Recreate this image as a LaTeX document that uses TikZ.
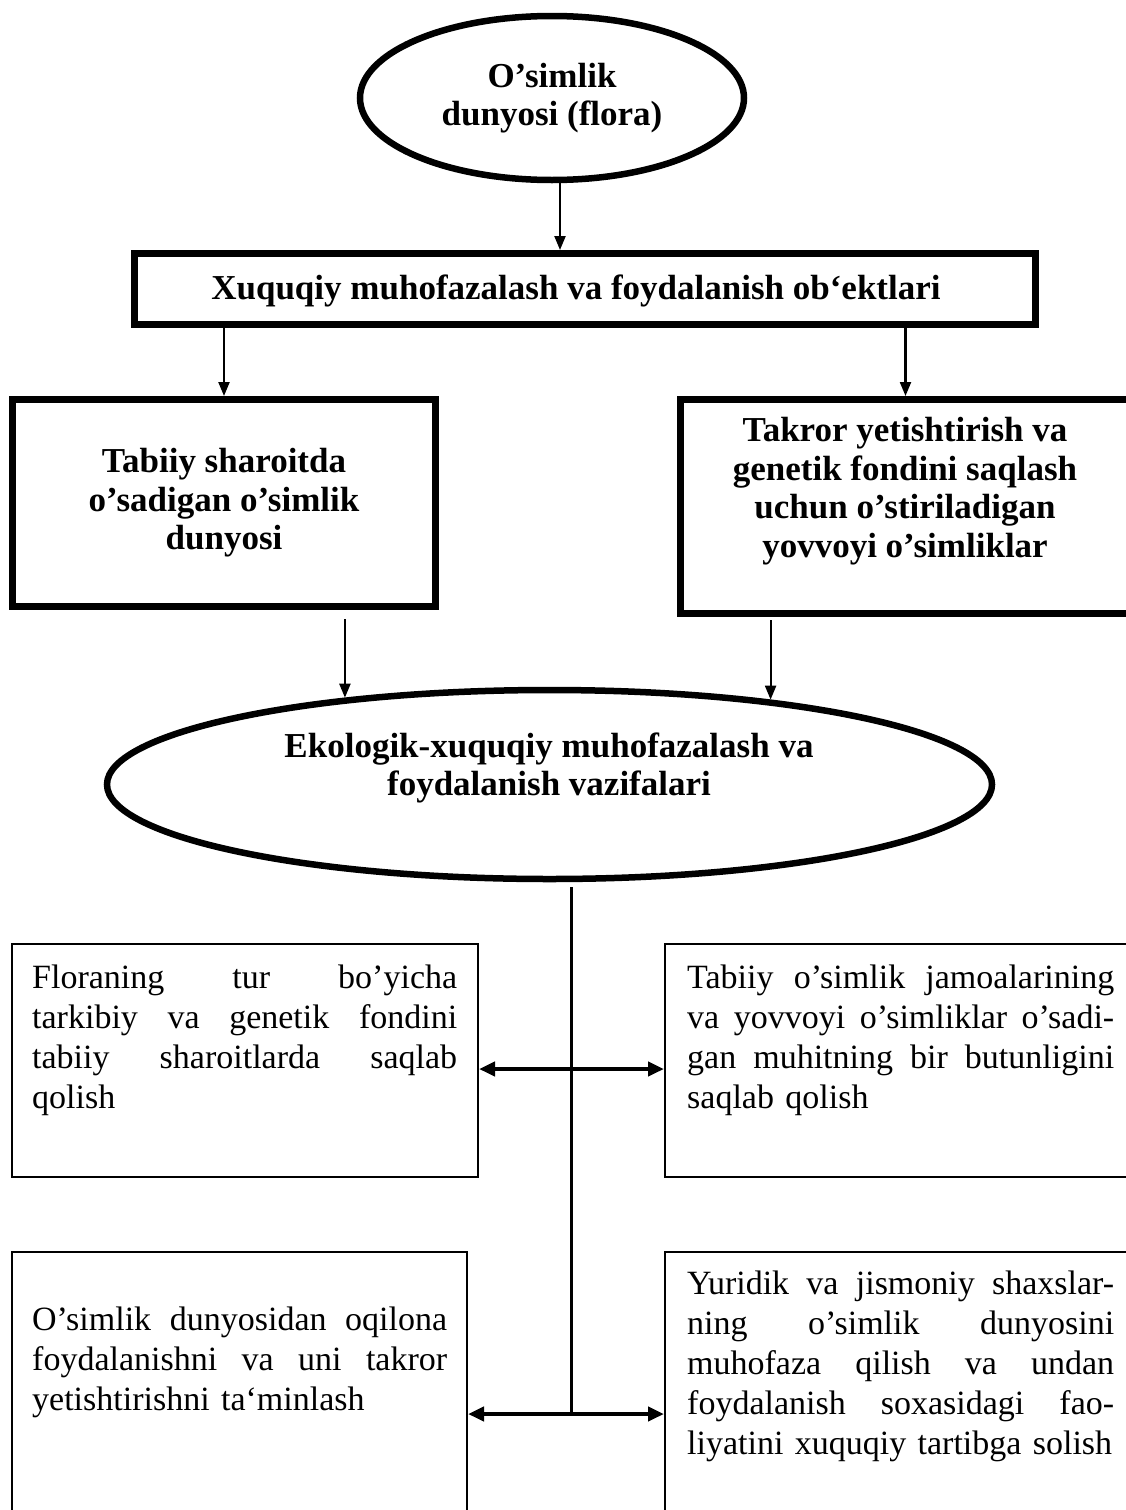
\documentclass[tikz,border=0pt]{standalone}
\usepackage{fontspec}
\setmainfont{Liberation Serif}
\usetikzlibrary{arrows.meta,shapes.geometric,calc}
\newcommand{\jl}[1]{\hbox to \hsize{\strut\spaceskip=.25em plus 1fil minus .05em\relax #1}}
\newcommand{\lastl}[1]{\hbox to \hsize{\strut #1\hfil}}
\begin{document}
\begin{tikzpicture}[x=1pt,y=-1pt,
  thickbox/.style={draw,line width=7pt,inner sep=0pt},
  thinbox/.style={draw,line width=2pt,inner sep=0pt},
  oval/.style={ellipse,draw,inner sep=0pt},
  conn/.style={line width=2.2pt,-{Triangle[length=14pt,width=11pt]}},
  biarrow/.style={line width=4.5pt,{Triangle[length=16pt,width=14pt]}-{Triangle[length=16pt,width=14pt]}},
  trunk/.style={line width=3pt},
  head/.style={font=\fontsize{35}{38.5}\selectfont\bfseries,align=center,inner sep=0pt},
  body/.style={font=\fontsize{34}{40}\selectfont,inner sep=0pt,anchor=north west}
]
\clip (0,0) rectangle (1126,1510);
\fill[white] (0,0) rectangle (1126,1510);

% top ellipse
\node[oval,line width=6.5pt,minimum width=384pt,minimum height=164pt,head] (flora) at (552,98) {O’simlik\\dunyosi (flora)};

% objects box
\node[thickbox,minimum width=901pt,minimum height=71pt] (obj) at (585,289) {};
\node[head] (objtext) at (576,291) {Xuquqiy muhofazalash va foydalanish ob‘ektlari};

% second-level boxes
\node[thickbox,minimum width=423pt,minimum height=207pt,head] (natural) at (224,503) {Tabiiy sharoitda\\o’sadigan o’simlik\\dunyosi};
\node[thickbox,minimum width=451pt,minimum height=214pt] (cultiv) at (905.5,506.5) {};
\node[head] (cultivtext) at (905,491) {Takror yetishtirish va\\genetik fondini saqlash\\uchun o’stiriladigan\\yovvoyi o’simliklar};

% tasks ellipse
\node[oval,line width=6.5pt,minimum width=885pt,minimum height=189pt] (tasks) at (549.5,784.5) {};
\node[head] (taskstext) at (549,768) {Ekologik-xuquqiy muhofazalash va\\foydalanish vazifalari};

% connectors, upper part
\draw[conn] ([xshift=8pt]flora.south) -- ([xshift=8pt]flora.south |- obj.north);
\draw[conn] (obj.south -| natural.north) -- (natural.north);
\draw[conn] (obj.south -| cultiv.north) -- (cultiv.north);
\draw[conn] ($(tasks.157.6 |- natural.south)+(0,9)$) -- (tasks.157.6);
\draw[conn] ($(tasks.21.9 |- cultiv.south)+(0,3)$) -- (tasks.21.9);

% lower boxes
\node[thinbox,minimum width=466pt,minimum height=233pt] (m1) at (245,1060.5) {};
\node[thinbox,minimum width=475pt,minimum height=233pt] (m2) at (902.5,1060.5) {};
\node[thinbox,minimum width=455pt,minimum height=290pt] (l1) at (239.5,1397) {};
\node[thinbox,minimum width=475pt,minimum height=290pt] (l2) at (902.5,1397) {};

\node[body,text width=425pt] (t1) at (32,960) {%
\jl{Floraning tur bo’yicha}
\jl{tarkibiy va genetik fondini}
\jl{tabiiy sharoitlarda saqlab}
\lastl{qolish}};
\node[body,text width=427pt] (t2) at (687,960) {%
\jl{Tabiiy o’simlik jamoalarining}
\jl{va yovvoyi o’simliklar o’sadi-}
\jl{gan muhitning bir butunligini}
\lastl{saqlab qolish}};
\node[body,text width=415pt] (t3) at (32,1302) {%
\jl{O’simlik dunyosidan oqilona}
\jl{foydalanishni va uni takror}
\lastl{yetishtirishni ta‘minlash}};
\node[body,text width=427pt] (t4) at (687,1266) {%
\jl{Yuridik va jismoniy shaxslar-}
\jl{ning o’simlik dunyosini}
\jl{muhofaza qilish va undan}
\jl{foydalanish soxasidagi fao-}
\lastl{liyatini xuquqiy tartibga solish}};

% trunk and double arrows
\coordinate (trunktop) at (571,887);
\coordinate (j1) at (571,1069);
\coordinate (j2) at (571,1414);
\draw[trunk] (trunktop) -- (j2);
\draw[biarrow] (m1.east |- j1) -- (m2.west |- j1);
\draw[biarrow] (l1.east |- j2) -- (l2.west |- j2);
\end{tikzpicture}
\end{document}
